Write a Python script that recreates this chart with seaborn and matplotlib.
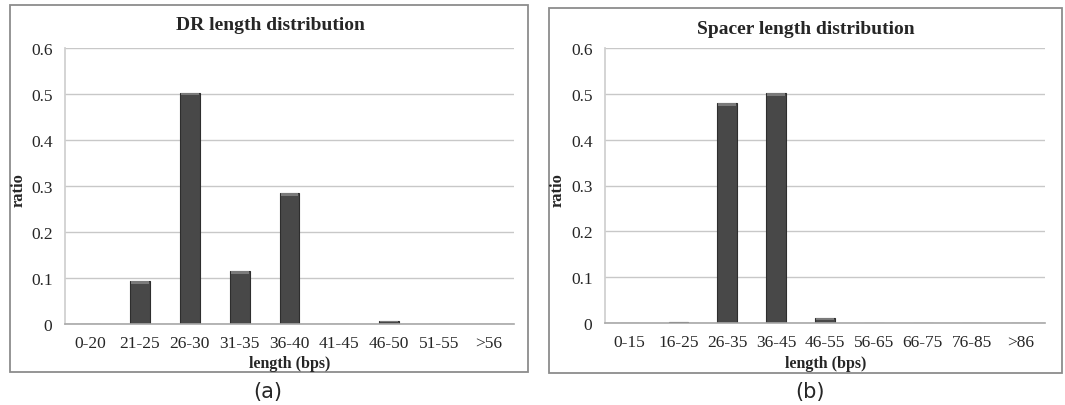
import matplotlib
matplotlib.use("Agg")
import matplotlib.pyplot as plt
from matplotlib.patches import Rectangle
import seaborn as sns
import pandas as pd

# DR (direct repeat) length bins and ratios
dr_bins = ["0-20", "21-25", "26-30", "31-35", "36-40", "41-45", "46-50", "51-55", ">56"]
dr_ratio = [0.0, 0.093, 0.503, 0.115, 0.284, 0.0, 0.007, 0.0, 0.0]

# Spacer length bins and ratios
sp_bins = ["0-15", "16-25", "26-35", "36-45", "46-55", "56-65", "66-75", "76-85", ">86"]
sp_ratio = [0.0, 0.002, 0.480, 0.502, 0.012, 0.001, 0.001, 0.0, 0.0]

y_ticks = [0, 0.1, 0.2, 0.3, 0.4, 0.5, 0.6]
y_ticklabels = ["0", "0.1", "0.2", "0.3", "0.4", "0.5", "0.6"]

sns.set_theme(style="white")
plt.rcParams["font.family"] = ["Liberation Serif", "DejaVu Serif"]

W, H = 1065, 406
fig = plt.figure(figsize=(W / 100, H / 100), dpi=100)


def px_rect(x0, y0, x1, y1):
    """Convert a pixel box (top-left origin) into figure fractions."""
    return [x0 / W, 1 - y1 / H, (x1 - x0) / W, (y1 - y0) / H]


# Panel frames
for (x0, y0, x1, y1) in [(10, 6, 528, 373), (549, 9, 1062, 374)]:
    l, b, w, h = px_rect(x0, y0, x1, y1)
    fig.add_artist(Rectangle((l, b), w, h, transform=fig.transFigure,
                             fill=False, edgecolor="#8c8c8c", linewidth=1.3))

panels = [
    dict(box=(65, 49, 514, 325), bins=dr_bins, vals=dr_ratio,
         title="DR length distribution", title_xy=(270, 26),
         ylab_xy=(19, 190), xlab_xy=(290, 364), cap="(a)", cap_xy=(268, 392)),
    dict(box=(605, 49, 1045, 324), bins=sp_bins, vals=sp_ratio,
         title="Spacer length distribution", title_xy=(806, 29),
         ylab_xy=(558, 190), xlab_xy=(826, 364), cap="(b)", cap_xy=(810, 392)),
]

for p in panels:
    ax = fig.add_axes(px_rect(*p["box"]))
    df = pd.DataFrame({"bin": p["bins"], "ratio": p["vals"]})
    sns.barplot(data=df, x="bin", y="ratio", ax=ax, color="#484848",
                width=0.4, edgecolor="#2e2e2e", linewidth=0.8, saturation=1)
    ax.set_ylim(0, 0.6)
    ax.set_xlim(-0.5, len(p["bins"]) - 0.5)

    # light bevel along the top of each bar
    for bar in list(ax.patches):
        h = bar.get_height()
        if h > 0.004:
            cap_h = min(0.006, h * 0.5)
            ax.add_patch(Rectangle((bar.get_x() + 0.02, h - cap_h),
                                   bar.get_width() - 0.04, cap_h,
                                   facecolor="#7a7a7a", edgecolor="none",
                                   zorder=bar.get_zorder() + 0.1))

    ax.set_yticks(y_ticks)
    ax.set_yticklabels(y_ticklabels, fontsize=12.5)
    ax.tick_params(axis="x", labelsize=12.5, pad=8, length=0)
    ax.tick_params(axis="y", pad=9, length=0)
    ax.set_xlabel("")
    ax.set_ylabel("")
    ax.yaxis.grid(True, color="#c8c8c8", linewidth=1)
    ax.set_axisbelow(True)
    for s in ["top", "right"]:
        ax.spines[s].set_visible(False)
    ax.spines["left"].set_color("#cfcfcf")
    ax.spines["bottom"].set_color("#a8a8a8")
    ax.spines["bottom"].set_linewidth(1.2)

    tx, ty = p["title_xy"]
    fig.text(tx / W, 1 - ty / H, p["title"], ha="center", va="center",
             fontsize=14, fontweight="bold")
    lx, ly = p["ylab_xy"]
    fig.text(lx / W, 1 - ly / H, "ratio", ha="center", va="center",
             rotation=90, fontsize=12, fontweight="bold")
    xx, xy = p["xlab_xy"]
    fig.text(xx / W, 1 - xy / H, "length (bps)", ha="center", va="center",
             fontsize=11.5, fontweight="bold")
    cx, cy = p["cap_xy"]
    fig.text(cx / W, 1 - cy / H, p["cap"], ha="center", va="center",
             fontsize=15, family="DejaVu Sans")

fig.savefig("out.png", dpi=100, facecolor="white")
